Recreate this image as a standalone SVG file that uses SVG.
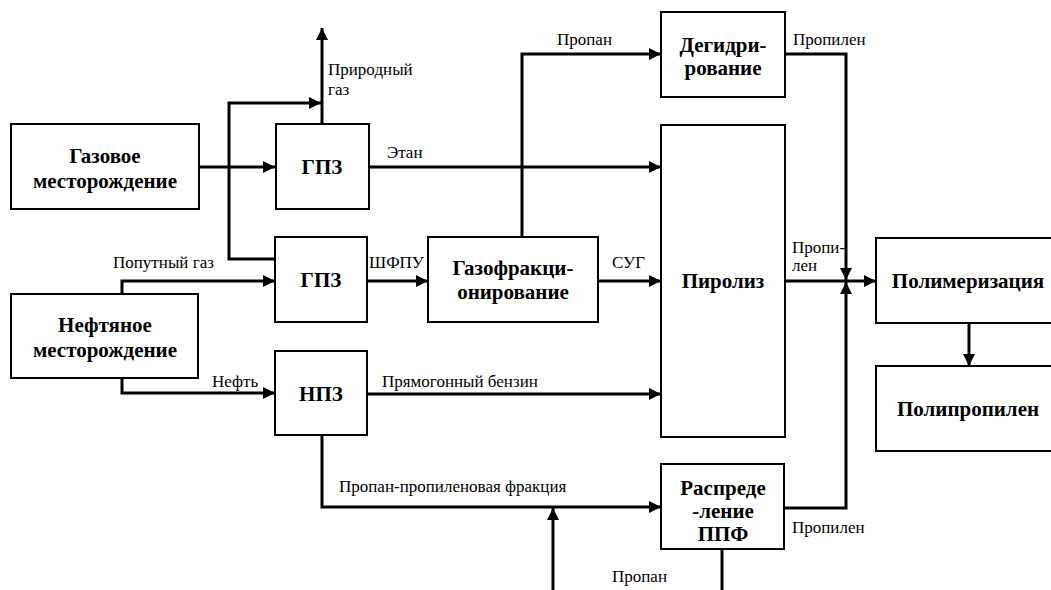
<svg xmlns="http://www.w3.org/2000/svg" width="1051" height="590" viewBox="0 0 1051 590">
<style>
.box{fill:#fff;stroke:#000;stroke-width:2}
.t{font-family:'Liberation Serif','Times New Roman',serif;font-weight:bold;font-size:21px;text-anchor:middle;fill:#000}
.l{font-family:'Liberation Serif','Times New Roman',serif;font-size:17px;fill:#000}
.c{fill:none;stroke:#000;stroke-width:3}
.a{marker-end:url(#arr)}
</style>
<defs>
<marker id="arr" viewBox="0 0 12 12" refX="12" refY="6" markerWidth="12" markerHeight="12" markerUnits="userSpaceOnUse" orient="auto">
<path d="M0,0 L12,6 L0,12 z" fill="#000"/>
</marker>
</defs>
<rect width="1051" height="590" fill="#fff"/>
<g id="connectors">
<path class="c a" d="M199,167 H275"/>
<path class="c a" d="M275,259 H229 V103 H321"/>
<path class="c a" d="M322,124 V28"/>
<path class="c a" d="M369,167 H661"/>
<path class="c a" d="M122,294 V281 H275"/>
<path class="c a" d="M122,378 V393 H275"/>
<path class="c a" d="M367,281 H428"/>
<path class="c a" d="M598,281 H661"/>
<path class="c a" d="M522,237 V54 H661"/>
<path class="c a" d="M785,54 H846 V280"/>
<path class="c a" d="M785,281 H876"/>
<path class="c a" d="M367,394 H661"/>
<path class="c a" d="M322,435 V507 H661"/>
<path class="c a" d="M553,590 V508"/>
<path class="c" d="M722,549 V590"/>
<path class="c a" d="M784,508 H846 V282"/>
<path class="c a" d="M969,323 V366"/>
</g>
<g id="gas-field"><rect class="box" x="11" y="124" width="188" height="85"/><text class="t" x="105" y="163">Газовое</text><text class="t" x="105" y="188">месторождение</text></g>
<g id="gpz1"><rect class="box" x="276" y="124" width="93" height="85"/><text class="t" x="322" y="174">ГПЗ</text></g>
<g id="gpz2"><rect class="box" x="275" y="237" width="92" height="85"/><text class="t" x="321" y="287">ГПЗ</text></g>
<g id="npz"><rect class="box" x="275" y="351" width="92" height="84"/><text class="t" x="321" y="401">НПЗ</text></g>
<g id="oil-field"><rect class="box" x="11" y="294" width="187" height="84"/><text class="t" x="105" y="332">Нефтяное</text><text class="t" x="105" y="357">месторождение</text></g>
<g id="gasfrac"><rect class="box" x="428" y="237" width="170" height="85"/><text class="t" x="513" y="275">Газофракци-</text><text class="t" x="513" y="299">онирование</text></g>
<g id="dehydro"><rect class="box" x="661" y="12" width="124" height="85"/><text class="t" x="723" y="52">Дегидри-</text><text class="t" x="723" y="75">рование</text></g>
<g id="pyrolysis"><rect class="box" x="661" y="125" width="124" height="312"/><text class="t" x="723" y="288">Пиролиз</text></g>
<g id="ppf"><rect class="box" x="661" y="464" width="123" height="85"/><text class="t" x="723" y="495">Распреде</text><text class="t" x="723" y="518">-ление</text><text class="t" x="723" y="541">ППФ</text></g>
<g id="polymerization"><rect class="box" x="876" y="238" width="200" height="85"/><text class="t" x="968" y="288">Полимеризация</text></g>
<g id="polypropylene"><rect class="box" x="876" y="366" width="200" height="85"/><text class="t" x="968" y="416">Полипропилен</text></g>
<g id="labels">
<text class="l" x="328" y="75">Природный</text>
<text class="l" x="328" y="95">газ</text>
<text class="l" x="387" y="158">Этан</text>
<text class="l" x="557" y="45">Пропан</text>
<text class="l" x="793" y="45">Пропилен</text>
<text class="l" x="113" y="268">Попутный газ</text>
<text class="l" x="369" y="268">ШФПУ</text>
<text class="l" x="612" y="268">СУГ</text>
<text class="l" x="792" y="253">Пропи-</text>
<text class="l" x="792" y="271">лен</text>
<text class="l" x="212" y="387">Нефть</text>
<text class="l" x="382" y="387">Прямогонный бензин</text>
<text class="l" x="339" y="492">Пропан-пропиленовая фракция</text>
<text class="l" x="612" y="582">Пропан</text>
<text class="l" x="792" y="533">Пропилен</text>
</g>
</svg>
